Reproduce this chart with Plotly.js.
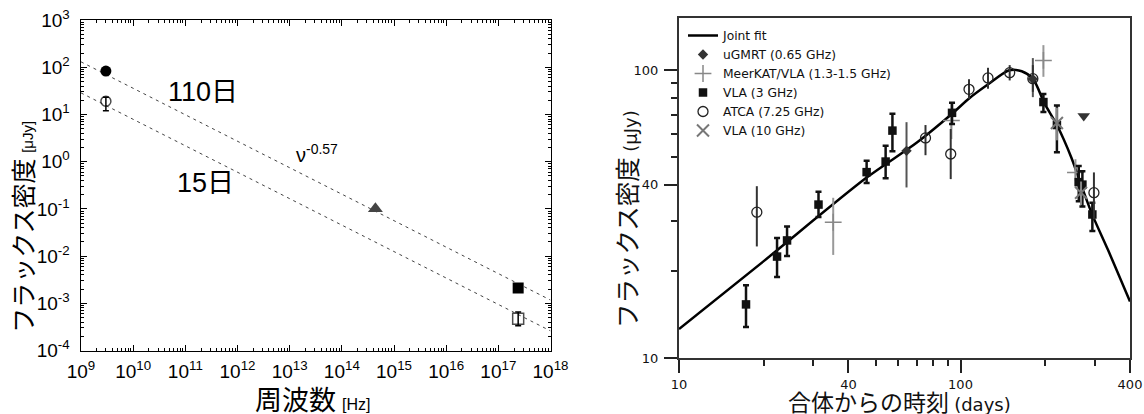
<!DOCTYPE html>
<html><head><meta charset="utf-8">
<script src="https://cdn.plot.ly/plotly-3.0.1.min.js"></script>
<style>html,body{margin:0;padding:0;background:#fff;} #chart{width:1144px;height:414px;}</style>
</head><body><div id="chart"></div>
<script>
// ---------- Left panel: broadband spectrum ----------
const radioFreq = [3.0e9];
const radioFlux110 = [83];
const opticalFreq = [4.4e14];
const opticalFlux110 = [0.10];
const xrayFreq = [2.4e17];
const xrayFlux110 = [0.0021];
const sedFreq15 = [3.0e9, 2.4e17];
const sedFlux15 = [19, 4.7e-4];
const sedErrUp15 = [4, 1.8e-4];
const sedErrDn15 = [7, 1.35e-4];
const sedSym15 = ['circle-open', 'square-open'];
const fitFreq = [1e9, 1e18];
const fitFlux110 = [130, 1.17e-3];
const fitFlux15 = [28.6, 2.6e-4];
const leftXTicks = [1e9,1e10,1e11,1e12,1e13,1e14,1e15,1e16,1e17,1e18];
const leftXText = ['9','10','11','12','13','14','15','16','17','18'].map(e => '10<sup>' + e + '</sup>');
const leftYTicks = [1e-4,1e-3,1e-2,1e-1,1,10,100,1000];
const leftYText = ['-4','-3','-2','-1','0','1','2','3'].map(e => '10<sup>' + e + '</sup>');

// ---------- Right panel: light curve ----------
const tVLA3 = [17.3, 22.3, 24.2, 31.3, 46.4, 54.2, 57.3, 93.3, 197, 220, 263, 271, 294];
const fVLA3 = [15.35, 22.5, 25.6, 34.1, 44.2, 48.1, 61.6, 71.0, 77.4, 64.4, 40.8, 40.0, 31.5];
const upVLA3 = [17.9, 26.1, 28.6, 37.8, 48.4, 54.6, 70.5, 76.9, 82.6, 75.3, 46.4, 44.5, 34.6];
const loVLA3 = [12.8, 19.1, 22.6, 30.9, 40.5, 42.1, 52.2, 65.0, 71.5, 51.8, 35.0, 33.6, 27.6];

const tATCA = [18.9, 75.1, 92.3, 107.2, 125.2, 149.5, 180.7, 297.8];
const fATCA = [32.1, 58.1, 51.1, 85.7, 93.9, 97.9, 93.3, 37.5];
const upATCA = [39.5, 64.4, 62.4, 92.9, 101.8, 104, 104, 44.1];
const loATCA = [24.4, 50.6, 41.8, 79.4, 86.1, 92, 84, 30.3];

const tMeer = [35.3, 92.8, 197, 256];
const fMeer = [29.6, 66.8, 108, 44.1];
const upMeer = [36.0, 77.4, 122, 49];
const loMeer = [22.8, 57.6, 94.7, 39.5];

const tGMRT = [64.3, 180.7];
const fGMRT = [52.4, 93];
const upGMRT = [65.9, 110];
const loGMRT = [39.1, 80.5];

const tVLA10 = [220, 268];
const fVLA10 = [65.5, 37.5];
const upVLA10 = [74, 41];
const loVLA10 = [57, 34];

const tLimit = [274];
const fLimit = [69.2];

const tFit = [10, 20, 46.4, 70, 93.3, 107, 125, 149, 165, 180.7, 199, 220, 247.5, 267, 294, 333.7, 400];
const fFit = [12.6, 21.7, 42.3, 56, 70.5, 79.5, 89, 99.8, 99, 93.3, 76.4, 64.4, 49.7, 40.4, 31.4, 23.8, 15.7];

const rightXTicks = [10, 40, 100, 400];
const rightXMinor = [20, 30, 50, 60, 70, 80, 90, 200, 300];
const rightYTicks = [10, 40, 100];
const rightYMinor = [20, 30, 50, 60, 70, 80, 90];

// minor ticks for the left log axes
const leftXMinor = [], leftYMinor = [];
for (let d = 9; d < 18; d++) for (let k = 2; k <= 9; k++) leftXMinor.push(k * Math.pow(10, d));
for (let d = -4; d < 3; d++) for (let k = 2; k <= 9; k++) leftYMinor.push(k * Math.pow(10, d));

const W = 1144, H = 414;
const px = v => v / W, py = v => 1 - v / H;
const errs = (up, lo, f) => ({plus: up.map((u, i) => u - f[i]), minus: lo.map((l, i) => f[i] - l)});

const eVLA3 = errs(upVLA3, loVLA3, fVLA3), eATCA = errs(upATCA, loATCA, fATCA);
const eMeer = errs(upMeer, loMeer, fMeer), eGMRT = errs(upGMRT, loGMRT, fGMRT);
const eVLA10 = errs(upVLA10, loVLA10, fVLA10);

const traces = [
  // left panel
  {x: fitFreq, y: fitFlux110, xaxis: 'x', yaxis: 'y', mode: 'lines', showlegend: false,
   line: {color: '#444', width: 1, dash: '3px,4px'}},
  {x: fitFreq, y: fitFlux15, xaxis: 'x', yaxis: 'y', mode: 'lines', showlegend: false,
   line: {color: '#444', width: 1, dash: '3px,4px'}},
  {x: radioFreq, y: radioFlux110, xaxis: 'x', yaxis: 'y', mode: 'markers', showlegend: false,
   marker: {symbol: 'circle', color: '#000', size: 11}},
  {x: opticalFreq, y: opticalFlux110, xaxis: 'x', yaxis: 'y', mode: 'markers', showlegend: false,
   marker: {symbol: 'triangle-up', color: '#444', size: 13}},
  {x: xrayFreq, y: xrayFlux110, xaxis: 'x', yaxis: 'y', mode: 'markers', showlegend: false,
   marker: {symbol: 'square', color: '#000', size: 11}},
  {x: sedFreq15, y: sedFlux15, xaxis: 'x', yaxis: 'y', mode: 'markers', showlegend: false,
   marker: {symbol: sedSym15, color: '#000', size: [10, 11], line: {color: '#000', width: 1.5}},
   error_y: {type: 'data', symmetric: false, array: sedErrUp15, arrayminus: sedErrDn15, color: '#000', thickness: 1.5, width: 3}},
  // right panel
  {x: tFit, y: fFit, xaxis: 'x2', yaxis: 'y2', mode: 'lines', name: 'Joint fit',
   line: {color: '#000', width: 2.5, shape: 'spline', smoothing: 0.8}},
  {x: tGMRT, y: fGMRT, xaxis: 'x2', yaxis: 'y2', mode: 'markers', name: 'uGMRT (0.65 GHz)',
   marker: {symbol: 'diamond', size: 8, color: '#333'},
   error_y: {type: 'data', symmetric: false, array: eGMRT.plus, arrayminus: eGMRT.minus, color: '#555', thickness: 2, width: 0}},
  {x: tMeer, y: fMeer, xaxis: 'x2', yaxis: 'y2', mode: 'markers', name: 'MeerKAT/VLA (1.3-1.5 GHz)',
   marker: {symbol: 'cross-thin-open', size: 12, color: '#888', line: {color: '#888', width: 1.5}},
   error_y: {type: 'data', symmetric: false, array: eMeer.plus, arrayminus: eMeer.minus, color: '#999', thickness: 2, width: 0}},
  {x: tVLA3, y: fVLA3, xaxis: 'x2', yaxis: 'y2', mode: 'markers', name: 'VLA (3 GHz)',
   marker: {symbol: 'square', size: 8.5, color: '#111'},
   error_y: {type: 'data', symmetric: false, array: eVLA3.plus, arrayminus: eVLA3.minus, color: '#111', thickness: 2.5, width: 3}},
  {x: tATCA, y: fATCA, xaxis: 'x2', yaxis: 'y2', mode: 'markers', name: 'ATCA (7.25 GHz)',
   marker: {symbol: 'circle-open', size: 10, color: '#222', line: {color: '#222', width: 1.3}},
   error_y: {type: 'data', symmetric: false, array: eATCA.plus, arrayminus: eATCA.minus, color: '#333', thickness: 2, width: 0}},
  {x: tVLA10, y: fVLA10, xaxis: 'x2', yaxis: 'y2', mode: 'markers', name: 'VLA (10 GHz)',
   marker: {symbol: 'x-thin-open', size: 12, color: '#777', line: {color: '#777', width: 2}},
   error_y: {type: 'data', symmetric: false, array: eVLA10.plus, arrayminus: eVLA10.minus, color: '#888', thickness: 2, width: 0}},
  {x: tLimit, y: fLimit, xaxis: 'x2', yaxis: 'y2', mode: 'markers', showlegend: false,
   marker: {symbol: 'triangle-down', size: 11, color: '#333'}}
];

const leftFont = {family: 'Liberation Sans, Arial, sans-serif', size: 19, color: '#000'};
const rightFont = {family: 'DejaVu Sans, sans-serif', size: 13, color: '#111'};

const layout = {
  width: W, height: H, autosize: false,
  margin: {l: 0, r: 0, t: 0, b: 0, pad: 0},
  paper_bgcolor: '#fff', plot_bgcolor: '#fff',
  showlegend: true,
  legend: {x: px(683), y: py(21), xanchor: 'left', yanchor: 'top', bgcolor: 'rgba(0,0,0,0)',
           font: {family: 'DejaVu Sans, sans-serif', size: 12.3, color: '#111'}, tracegroupgap: 0},
  xaxis: {type: 'log', domain: [px(81), px(550.5)], range: [9, 18], anchor: 'y',
          tickmode: 'array', tickvals: leftXTicks, ticktext: leftXText,
          ticks: 'inside', ticklen: 6, tickwidth: 1, tickcolor: '#000',
          minor: {tickmode: 'array', tickvals: leftXMinor, ticks: 'inside', ticklen: 3, tickwidth: 1, tickcolor: '#000', showgrid: false},
          showline: true, linecolor: '#000', linewidth: 1.5, mirror: 'allticks',
          showgrid: false, zeroline: false, tickfont: leftFont, ticklabelstandoff: 3},
  yaxis: {type: 'log', domain: [py(350.5), py(20)], range: [-4, 3], anchor: 'x',
          tickmode: 'array', tickvals: leftYTicks, ticktext: leftYText,
          ticks: 'inside', ticklen: 6, tickwidth: 1, tickcolor: '#000',
          minor: {tickmode: 'array', tickvals: leftYMinor, ticks: 'inside', ticklen: 3, tickwidth: 1, tickcolor: '#000', showgrid: false},
          showline: true, linecolor: '#000', linewidth: 1.5, mirror: 'allticks',
          showgrid: false, zeroline: false, tickfont: leftFont, ticklabelstandoff: 6},
  xaxis2: {type: 'log', domain: [px(679), px(1130)], range: [1, Math.log10(400)], anchor: 'y2',
           tickmode: 'array', tickvals: rightXTicks, ticktext: rightXTicks.map(String),
           ticks: 'outside', ticklen: 13, tickwidth: 2, tickcolor: '#222',
           minor: {tickmode: 'array', tickvals: rightXMinor, ticks: 'outside', ticklen: 6, tickwidth: 2, tickcolor: '#222', showgrid: false},
           showline: true, linecolor: '#333', linewidth: 2, mirror: true,
           showgrid: false, zeroline: false, tickfont: rightFont, ticklabelstandoff: 0},
  yaxis2: {type: 'log', domain: [py(358), py(18)], range: [1, 2.1806], anchor: 'x2',
           tickmode: 'array', tickvals: rightYTicks, ticktext: rightYTicks.map(String),
           ticks: 'outside', ticklen: 13, tickwidth: 2, tickcolor: '#222',
           minor: {tickmode: 'array', tickvals: rightYMinor, ticks: 'outside', ticklen: 6, tickwidth: 2, tickcolor: '#222', showgrid: false},
           showline: true, linecolor: '#333', linewidth: 2, mirror: true,
           showgrid: false, zeroline: false, tickfont: rightFont, ticklabelstandoff: 3},
  annotations: [
    {xref: 'paper', yref: 'paper', x: px(203), y: py(92), text: '110日', showarrow: false,
     xanchor: 'center', yanchor: 'middle', font: {family: 'Liberation Sans, Noto Sans CJK JP, sans-serif', size: 27, color: '#000'}},
    {xref: 'paper', yref: 'paper', x: px(205), y: py(183), text: '15日', showarrow: false,
     xanchor: 'center', yanchor: 'middle', font: {family: 'Liberation Sans, Noto Sans CJK JP, sans-serif', size: 27, color: '#000'}},
    {xref: 'paper', yref: 'paper', x: px(317), y: py(153), text: 'ν<sup>-0.57</sup>', showarrow: false,
     xanchor: 'center', yanchor: 'middle', font: {family: 'Liberation Sans, Arial, sans-serif', size: 20, color: '#000'}},
    {xref: 'paper', yref: 'paper', x: px(22), y: py(226.7), textangle: -90,
     text: 'フラックス密度 <span style="font-size:15px;font-family:Liberation Sans">[μJy]</span>', showarrow: false,
     xanchor: 'center', yanchor: 'middle', font: {family: 'Noto Sans CJK JP, sans-serif', size: 25, color: '#000'}},
    {xref: 'paper', yref: 'paper', x: px(312.6), y: py(398),
     text: '周波数 <span style="font-size:16px;font-family:Liberation Sans">[Hz]</span>', showarrow: false,
     xanchor: 'center', yanchor: 'middle', font: {family: 'Noto Sans CJK JP, sans-serif', size: 27, color: '#000'}},
    {xref: 'paper', yref: 'paper', x: px(626), y: py(219), textangle: -90,
     text: 'フラックス密度 <span style="font-size:18px;font-family:DejaVu Sans">(μJy)</span>', showarrow: false,
     xanchor: 'center', yanchor: 'middle', font: {family: 'Noto Sans CJK JP, sans-serif', size: 24.5, color: '#111'}},
    {xref: 'paper', yref: 'paper', x: px(899), y: py(401),
     text: '合体からの時刻 <span style="font-size:18px;font-family:DejaVu Sans">(days)</span>', showarrow: false,
     xanchor: 'center', yanchor: 'middle', font: {family: 'Noto Sans CJK JP, sans-serif', size: 23, color: '#111'}}
  ]
};

Plotly.newPlot('chart', traces, layout, {staticPlot: true, displayModeBar: false});
</script>
</body></html>
